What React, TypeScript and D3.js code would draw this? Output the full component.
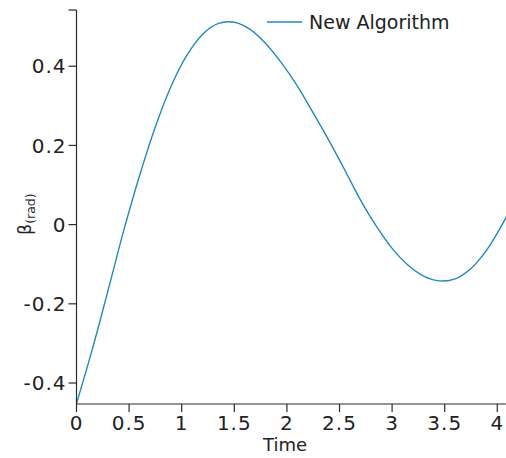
import React from "react";
import * as d3 from "d3";

// Simulated steering angle trace, sampled every 0.15 s
const TIME = [0, 0.15, 0.3, 0.45, 0.6, 0.75, 0.9, 1.05, 1.2, 1.35, 1.5, 1.65, 1.8, 1.95, 2.1, 2.25, 2.4, 2.55, 2.7, 2.85, 3.0, 3.15, 3.3, 3.45, 3.6, 3.75, 3.9, 4.05, 4.2];
const BETA = [-0.452, -0.315, -0.166, -0.014, 0.124, 0.247, 0.35, 0.428, 0.481, 0.508, 0.511, 0.493, 0.457, 0.408, 0.35, 0.282, 0.212, 0.138, 0.062, -0.004, -0.06, -0.102, -0.13, -0.142, -0.137, -0.111, -0.064, 0.002, 0.08];

const X_TICKS = [0, 0.5, 1, 1.5, 2, 2.5, 3, 3.5, 4];
const Y_TICKS = [-0.4, -0.2, 0, 0.2, 0.4];
const SERIES_NAME = "New Algorithm";

const W = 506;
const H = 458;
const FONT = "'DejaVu Sans', sans-serif";
const AXIS_COLOR = "#2b2b2b";
const LINE_COLOR = "#2189c0";

export default function App() {
  const x = d3.scaleLinear().domain([0, 4.2]).range([76.5, 76.5 + 4.2 * 105.2]);
  const y = d3.scaleLinear().domain([-0.453, 0.542]).range([404, 10]);

  const line = d3
    .line<number>()
    .x((_, i) => x(TIME[i]))
    .y((d) => y(d))
    .curve(d3.curveCatmullRom);

  const fmt = (v: number) => (v === 0 ? "0" : String(v));
  const x0 = x(0);
  const yBottom = y(-0.453);
  const yTop = y(0.542);

  return (
    <svg
      width={W}
      height={H}
      style={{ position: "absolute", left: 0, top: 0, background: "#fff" }}
      fontFamily={FONT}
    >
      <defs>
        <clipPath id="plot-area">
          <rect x={x0} y={0} width={W - x0} height={yBottom + 1} />
        </clipPath>
      </defs>

      {/* data line */}
      <path
        d={line(BETA) || ""}
        fill="none"
        stroke={LINE_COLOR}
        strokeWidth={1.4}
        clipPath="url(#plot-area)"
      />

      {/* x axis */}
      <line x1={x0} x2={W} y1={yBottom} y2={yBottom} stroke={AXIS_COLOR} strokeWidth={1.2} />
      {X_TICKS.map((t) => (
        <g key={t} transform={`translate(${x(t)},${yBottom})`}>
          <line y1={0} y2={8} stroke={AXIS_COLOR} strokeWidth={1.2} />
          <text y={26} textAnchor="middle" fontSize={20} letterSpacing={1} fill="#222">
            {fmt(t)}
          </text>
        </g>
      ))}
      <text x={285} y={451} textAnchor="middle" fontSize={18} fill="#222">
        Time
      </text>

      {/* y axis */}
      <line x1={x0} x2={x0} y1={yTop} y2={yBottom} stroke={AXIS_COLOR} strokeWidth={1.2} />
      <line x1={x0 - 8} x2={x0} y1={yTop} y2={yTop} stroke={AXIS_COLOR} strokeWidth={1.2} />
      {Y_TICKS.map((t) => (
        <g key={t} transform={`translate(${x0},${y(t)})`}>
          <line x1={-8} x2={0} stroke={AXIS_COLOR} strokeWidth={1.2} />
          <text x={-10} dy="0.36em" textAnchor="end" fontSize={20} letterSpacing={1} fill="#222">
            {fmt(t)}
          </text>
        </g>
      ))}
      <text transform="translate(31,214) rotate(-90)" textAnchor="middle" fontSize={17} fill="#222">
        β
        <tspan fontSize={12.5} dy={4}>
          (rad)
        </tspan>
      </text>

      {/* legend */}
      <line x1={267} x2={302} y1={22} y2={22} stroke={LINE_COLOR} strokeWidth={1.4} />
      <text x={309} y={29} fontSize={19} fill="#222">
        {SERIES_NAME}
      </text>
    </svg>
  );
}
